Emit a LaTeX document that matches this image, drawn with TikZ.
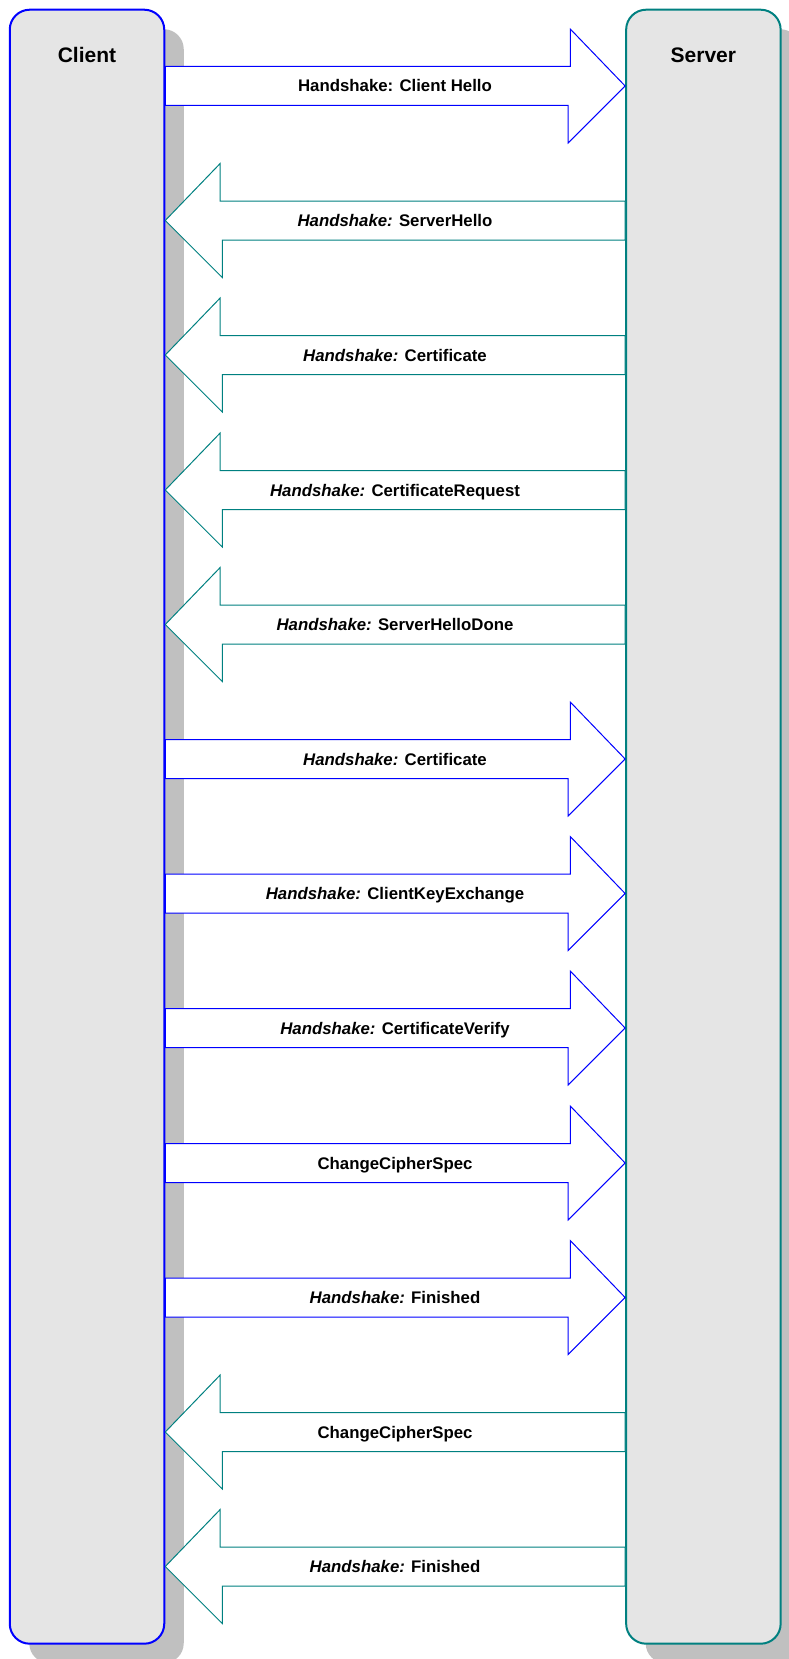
\documentclass[tikz,border=0pt]{standalone}
\usepackage{fontspec}
\setmainfont{Liberation Sans}
\usepackage{tikz}
\usetikzlibrary{shadows}
\definecolor{boxgray}{RGB}{229,229,229}
\definecolor{shadowgray}{RGB}{192,192,192}
\definecolor{serverteal}{RGB}{0,128,128}
\tikzset{
 box/.style
  = {rectangle, rounded corners=10pt, fill=boxgray, line width=1pt,
     minimum width=77.25pt, minimum height=817pt, inner sep=0pt,
     drop shadow={shadow xshift=9.75pt, shadow yshift=-9.75pt,
                  draw=none, fill=shadowgray, opacity=1}},
 title/.style
  = {font=\fontsize{10.5}{12}\selectfont\bfseries, anchor=base},
 msg/.style
  = {font=\fontsize{8.4}{10}\selectfont\bfseries, anchor=base},
 toserver/.style
  = {draw=blue, fill=white, line width=0.5pt},
 toclient/.style
  = {draw=serverteal, fill=white, line width=0.5pt},
}

\begin{document}
\begin{tikzpicture}[x=0.5pt, y=-0.5pt]
\useasboundingbox (0,0) rectangle (788,1659);

% Client
\node[box, draw=blue] (client) at (87,826.7) {};
\node[title] (clientname) at (87,63) {Client};

% Server
\node[box, draw=serverteal] (server) at (703.4,826.7) {};
\node[title] (servername) at (703.4,63) {Server};

% Client Hello
\draw[toserver] (client.east |- 0,66.5) -- ++(405,0) -- ++(0,-37.5) -- (server.west |- 0,86) -- ++(-57,57) -- ++(0,-37.5) -- (client.east |- 0,105.5) -- cycle;
\node[msg] (m1) at (395,92) {Handshake: Client Hello};

% ServerHello
\draw[toclient] (server.west |- 0,201) -- ++(-405,0) -- ++(0,-37.5) -- (client.east |- 0,220.5) -- ++(57,57) -- ++(0,-37.5) -- (server.west |- 0,240) -- cycle;
\node[msg] (m2) at (395,226.5) {\textit{Handshake:} ServerHello};

% Certificate (server)
\draw[toclient] (server.west |- 0,335.5) -- ++(-405,0) -- ++(0,-37.5) -- (client.east |- 0,355) -- ++(57,57) -- ++(0,-37.5) -- (server.west |- 0,374.5) -- cycle;
\node[msg] (m3) at (395,361) {\textit{Handshake:} Certificate};

% CertificateRequest
\draw[toclient] (server.west |- 0,470.5) -- ++(-405,0) -- ++(0,-37.5) -- (client.east |- 0,490) -- ++(57,57) -- ++(0,-37.5) -- (server.west |- 0,509.5) -- cycle;
\node[msg] (m4) at (395,496) {\textit{Handshake:} CertificateRequest};

% ServerHelloDone
\draw[toclient] (server.west |- 0,605) -- ++(-405,0) -- ++(0,-37.5) -- (client.east |- 0,624.5) -- ++(57,57) -- ++(0,-37.5) -- (server.west |- 0,644) -- cycle;
\node[msg] (m5) at (395,630.5) {\textit{Handshake:} ServerHelloDone};

% Certificate (client)
\draw[toserver] (client.east |- 0,739.5) -- ++(405,0) -- ++(0,-37.5) -- (server.west |- 0,759) -- ++(-57,57) -- ++(0,-37.5) -- (client.east |- 0,778.5) -- cycle;
\node[msg] (m6) at (395,765) {\textit{Handshake:} Certificate};

% ClientKeyExchange
\draw[toserver] (client.east |- 0,874) -- ++(405,0) -- ++(0,-37.5) -- (server.west |- 0,893.5) -- ++(-57,57) -- ++(0,-37.5) -- (client.east |- 0,913) -- cycle;
\node[msg] (m7) at (395,899.5) {\textit{Handshake:} ClientKeyExchange};

% CertificateVerify
\draw[toserver] (client.east |- 0,1008.5) -- ++(405,0) -- ++(0,-37.5) -- (server.west |- 0,1028) -- ++(-57,57) -- ++(0,-37.5) -- (client.east |- 0,1047.5) -- cycle;
\node[msg] (m8) at (395,1034) {\textit{Handshake:} CertificateVerify};

% ChangeCipherSpec (client)
\draw[toserver] (client.east |- 0,1143.5) -- ++(405,0) -- ++(0,-37.5) -- (server.west |- 0,1163) -- ++(-57,57) -- ++(0,-37.5) -- (client.east |- 0,1182.5) -- cycle;
\node[msg] (m9) at (395,1169) {ChangeCipherSpec};

% Finished (client)
\draw[toserver] (client.east |- 0,1278) -- ++(405,0) -- ++(0,-37.5) -- (server.west |- 0,1297.5) -- ++(-57,57) -- ++(0,-37.5) -- (client.east |- 0,1317) -- cycle;
\node[msg] (m10) at (395,1303.5) {\textit{Handshake:} Finished};

% ChangeCipherSpec (server)
\draw[toclient] (server.west |- 0,1412.5) -- ++(-405,0) -- ++(0,-37.5) -- (client.east |- 0,1432) -- ++(57,57) -- ++(0,-37.5) -- (server.west |- 0,1451.5) -- cycle;
\node[msg] (m11) at (395,1438) {ChangeCipherSpec};

% Finished (server)
\draw[toclient] (server.west |- 0,1547) -- ++(-405,0) -- ++(0,-37.5) -- (client.east |- 0,1566.5) -- ++(57,57) -- ++(0,-37.5) -- (server.west |- 0,1586) -- cycle;
\node[msg] (m12) at (395,1572.5) {\textit{Handshake:} Finished};

\end{tikzpicture}
\end{document}
